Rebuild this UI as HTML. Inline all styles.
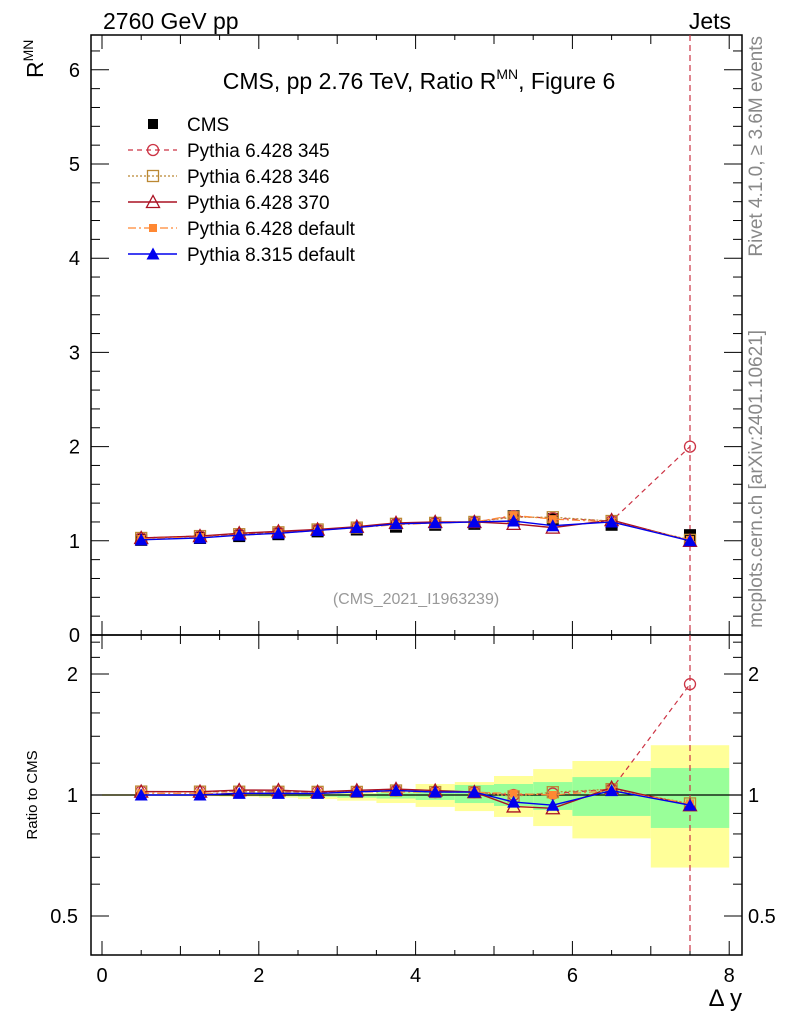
<!DOCTYPE html>
<html><head><meta charset="utf-8"><style>
html,body{margin:0;padding:0;background:#fff;}
svg{display:block;font-family:"Liberation Sans",sans-serif;}
</style></head><body>
<svg id="c" width="786" height="1024" viewBox="0 0 786 1024" xmlns="http://www.w3.org/2000/svg"></svg>
<script>
const xs=[0.5,1.25,1.75,2.25,2.75,3.25,3.75,4.25,4.75,5.25,5.75,6.5,7.5];
const binLo=[0,1,1.5,2,2.5,3,3.5,4,4.5,5,5.5,6,7];
const binHi=[1,1.5,2,2.5,3,3.5,4,4.5,5,5.5,6,7,8];
const cms=[1.01,1.03,1.05,1.07,1.10,1.12,1.15,1.17,1.18,1.26,1.23,1.17,1.06];
const p345=[1.03,1.05,1.07,1.09,1.12,1.14,1.18,1.19,1.20,1.26,1.24,1.21,2.0];
const p346=[1.03,1.05,1.07,1.09,1.12,1.14,1.18,1.19,1.20,1.25,1.25,1.21,1.01];
const p370=[1.03,1.05,1.08,1.10,1.12,1.15,1.19,1.20,1.20,1.18,1.14,1.22,1.0];
const p6def=[1.02,1.04,1.06,1.08,1.11,1.14,1.17,1.19,1.20,1.27,1.23,1.20,1.01];
const p8def=[1.01,1.03,1.06,1.08,1.11,1.14,1.18,1.19,1.20,1.21,1.16,1.20,1.0];
const yelLo=[0.995,0.993,0.99,0.985,0.977,0.968,0.955,0.934,0.912,0.882,0.837,0.78,0.66];
const yelHi=[1.005,1.005,1.006,1.008,1.01,1.012,1.03,1.065,1.077,1.115,1.16,1.215,1.33];
const grnLo=[0.998,0.997,0.996,0.993,0.99,0.985,0.98,0.972,0.955,0.939,0.918,0.887,0.828];
const grnHi=[1.002,1.003,1.003,1.004,1.005,1.007,1.015,1.029,1.059,1.065,1.077,1.108,1.167];
const yTicks=[0,1,2,3,4,5,6];
const xTicks=[0,2,4,6,8];
const rTicks=[0.5,1,2];

const svg=document.getElementById('c');
const NS='http://www.w3.org/2000/svg';
function mk(tag,at,parent){const e=document.createElementNS(NS,tag);for(const k in at)e.setAttribute(k,at[k]);(parent||svg).appendChild(e);return e;}
const L=91,R=742,T=35,M=635,B=955;
const X=v=>102+v*78.4;
const Y=v=>635-v*94.2;
const RY=v=>795-121*Math.log2(v);

for(let i=0;i<binLo.length;i++){
  const y=mk('rect',{x:X(binLo[i]),y:RY(yelHi[i]),width:X(binHi[i])-X(binLo[i]),height:RY(yelLo[i])-RY(yelHi[i]),fill:'#ffff99'});
  
  
  const g=mk('rect',{x:X(binLo[i]),y:RY(grnHi[i]),width:X(binHi[i])-X(binLo[i]),height:RY(grnLo[i])-RY(grnHi[i]),fill:'#99ff99'});
  
  
}
mk('line',{x1:L,x2:R,y1:RY(1),y2:RY(1),stroke:'#000','stroke-width':1.2});

mk('rect',{x:L,y:T,width:R-L,height:M-T,fill:'none',stroke:'#000','stroke-width':1.5,});
mk('rect',{x:L,y:M,width:R-L,height:B-M,fill:'none',stroke:'#000','stroke-width':1.5,});

for(let v=0;v<=8.001;v+=0.5){
  const maj=Math.abs(v-Math.round(v/2)*2)<1e-6, half=Math.abs(v-Math.round(v))<1e-6;
  const len=maj?14:(half?9:5);
  [T,M].forEach(t=>mk('line',{x1:X(v),x2:X(v),y1:t,y2:t+len,stroke:'#000'}));
  [M,B].forEach(b=>mk('line',{x1:X(v),x2:X(v),y1:b,y2:b-len,stroke:'#000'}));
}
xTicks.forEach(v=>{const t=mk('text',{x:X(v),y:982,'font-size':20,'text-anchor':'middle'});t.textContent=v;
 });
const xl=mk('text',{x:742,y:1006,'font-size':24,'text-anchor':'end',});xl.textContent='Δ y';

for(let v=0;v<=6.3;v+=0.2){
  const maj=Math.abs(v-Math.round(v))<1e-6, len=maj?18:9;
  mk('line',{x1:L,x2:L+len,y1:Y(v),y2:Y(v),stroke:'#000'});
  mk('line',{x1:R,x2:R-len,y1:Y(v),y2:Y(v),stroke:'#000'});
}
yTicks.forEach(v=>{const t=mk('text',{x:80,y:Y(v)+7,'font-size':20,'text-anchor':'end'});t.textContent=v;
 });
[0.5,0.6,0.7,0.8,0.9,1,1.2,1.4,1.6,1.8,2,2.2,2.4].forEach(v=>{
  const maj=rTicks.includes(v), len=maj?18:9;
  mk('line',{x1:L,x2:L+len,y1:RY(v),y2:RY(v),stroke:'#000'});
  mk('line',{x1:R,x2:R-len,y1:RY(v),y2:RY(v),stroke:'#000'});
});
rTicks.forEach(v=>{
  const t=mk('text',{x:78,y:RY(v)+7,'font-size':20,'text-anchor':'end'});t.textContent=v;
  
  const t2=mk('text',{x:748,y:RY(v)+7,'font-size':20});t2.textContent=v;
  
});

let t=mk('text',{x:103,y:29,'font-size':23,});t.textContent='2760 GeV pp';
t=mk('text',{x:731,y:29,'font-size':23,'text-anchor':'end',});t.textContent='Jets';
t=mk('text',{x:419,y:89,'font-size':23,'text-anchor':'middle',});
t.innerHTML='CMS, pp 2.76 TeV, Ratio R<tspan dy="-10" font-size="14">MN</tspan><tspan dy="10">, Figure 6</tspan>';
t=mk('text',{x:0,y:0,'font-size':23,transform:'translate(43,78) rotate(-90)',});
t.innerHTML='R<tspan dy="-10" font-size="14">MN</tspan>';
t=mk('text',{x:0,y:0,'font-size':15,'text-anchor':'middle',transform:'translate(37,795) rotate(-90)',});t.textContent='Ratio to CMS';
t=mk('text',{x:0,y:0,'font-size':19,fill:'#888','text-anchor':'end',transform:'translate(762,36) rotate(-90)',});t.textContent='Rivet 4.1.0, ≥ 3.6M events';
t=mk('text',{x:0,y:0,'font-size':19,fill:'#888','text-anchor':'end',transform:'translate(762,330) rotate(-90)',});t.textContent='mcplots.cern.ch [arXiv:2401.10621]';
t=mk('text',{x:416,y:604,'font-size':16,fill:'#999','text-anchor':'middle',});t.textContent='(CMS_2021_I1963239)';

mk('line',{x1:X(7.5),x2:X(7.5),y1:T,y2:B,stroke:'#cc3344','stroke-width':1.2,'stroke-dasharray':'6,4',});

function marker(g,type,x,y,col,s){
  s=s||5.5;
  if(type==='sq')mk('rect',{x:x-s,y:y-s,width:2*s,height:2*s,fill:col},g);
  if(type==='osq')mk('rect',{x:x-s,y:y-s,width:2*s,height:2*s,fill:'none',stroke:col,'stroke-width':1.3},g);
  if(type==='oc')mk('circle',{cx:x,cy:y,r:s,fill:'none',stroke:col,'stroke-width':1.3},g);
  if(type==='otri')mk('polygon',{points:`${x},${y-s-1} ${x-s-1},${y+s} ${x+s+1},${y+s}`,fill:'none',stroke:col,'stroke-width':1.3},g);
  if(type==='tri')mk('polygon',{points:`${x},${y-s-1} ${x-s-1},${y+s} ${x+s+1},${y+s}`,fill:col},g);
  if(type==='ssq')mk('rect',{x:x-4,y:y-4,width:8,height:8,fill:col},g);
}
const series=[
 {name:'Pythia 6.428 345',vals:p345,col:'#cc3344',dash:'5,4',mk:'oc',w:1.2},
 {name:'Pythia 6.428 346',vals:p346,col:'#bb8833',dash:'2,2',mk:'osq',w:1.2},
 {name:'Pythia 6.428 370',vals:p370,col:'#aa1122',dash:'',mk:'otri',w:1.4},
 {name:'Pythia 6.428 default',vals:p6def,col:'#ff8833',dash:'8,3,2,3',mk:'ssq',w:1.2},
 {name:'Pythia 8.315 default',vals:p8def,col:'#0000ee',dash:'',mk:'tri',w:1.4},
];
const cg=mk('g',{});
cms.forEach((v,i)=>marker(cg,'sq',X(xs[i]),Y(v),'#000',6));
series.forEach(s=>{
  const g=mk('g',{});
  
  
  const pts=s.vals.map((v,i)=>X(xs[i])+','+Y(v)).join(' ');
  mk('polyline',{points:pts,fill:'none',stroke:s.col,'stroke-width':s.w,'stroke-dasharray':s.dash},g);
  s.vals.forEach((v,i)=>marker(g,s.mk,X(xs[i]),Y(v),s.col));
  const g2=mk('g',{});
  
  
  const rp=s.vals.map((v,i)=>X(xs[i])+','+RY(v/cms[i])).join(' ');
  mk('polyline',{points:rp,fill:'none',stroke:s.col,'stroke-width':s.w,'stroke-dasharray':s.dash},g2);
  s.vals.forEach((v,i)=>marker(g2,s.mk,X(xs[i]),RY(v/cms[i]),s.col));
});

const lg=mk('g',{});
const rows=[{name:'CMS',mk:'sq',col:'#000',dash:null}].concat(series);
rows.forEach((s,i)=>{
  const y=124+i*26;
  const e=mk('g',{},lg);
  
  
  if(s.dash!==null)mk('line',{x1:128,x2:177,y1:y,y2:y,stroke:s.col,'stroke-width':s.w,'stroke-dasharray':s.dash},e);
  marker(e,s.mk,153,y,s.col,s.mk==='sq'?5:5.5);
  const tt=mk('text',{x:187,y:y+7,'font-size':19},e);tt.textContent=s.name;
});
</script>
</body></html>
